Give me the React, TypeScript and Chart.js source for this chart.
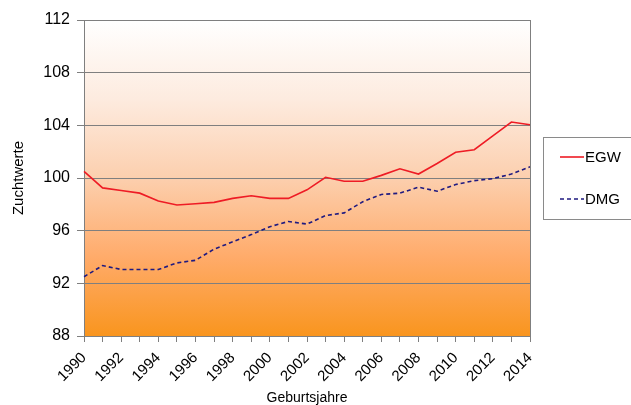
import React, { useEffect, useRef } from "react";
import { Chart, registerables } from "chart.js";

Chart.register(...registerables);

const years: string[] = [
  "1990", "1991", "1992", "1993", "1994", "1995", "1996", "1997", "1998", "1999",
  "2000", "2001", "2002", "2003", "2004", "2005", "2006", "2007", "2008", "2009",
  "2010", "2011", "2012", "2013", "2014",
];

const egw: number[] = [
  100.5, 99.25, 99.05, 98.85, 98.25, 97.95, 98.05, 98.15, 98.45, 98.65,
  98.45, 98.45, 99.1, 100.05, 99.75, 99.75, 100.2, 100.7, 100.3, 101.1,
  101.95, 102.15, 103.2, 104.25, 104.05,
];

const dmg: number[] = [
  92.5, 93.35, 93.05, 93.05, 93.05, 93.55, 93.75, 94.6, 95.15, 95.7,
  96.3, 96.7, 96.5, 97.15, 97.35, 98.2, 98.75, 98.85, 99.3, 99.0,
  99.5, 99.8, 99.95, 100.3, 100.85,
];

const yTicks: number[] = [88, 92, 96, 100, 104, 108, 112];

const FONT = "'Liberation Sans', Arial, sans-serif";
const GRID = "#7f7f7f";

// Gradient fill behind the plot plus the right frame edge
const plotFrame = {
  id: "plotFrame",
  beforeDraw(chart: Chart) {
    const { ctx, chartArea } = chart;
    const { left, right, top, bottom } = chartArea;
    const g = ctx.createLinearGradient(0, top, 0, bottom);
    g.addColorStop(0, "#ffffff");
    g.addColorStop(0.25, "#fdebdf");
    g.addColorStop(0.5, "#fccfae");
    g.addColorStop(0.75, "#ffab6a");
    g.addColorStop(1, "#f9951e");
    ctx.save();
    ctx.fillStyle = g;
    ctx.fillRect(left, top, right - left, bottom - top);
    ctx.restore();
  },
  afterDatasetsDraw(chart: Chart) {
    const { ctx, chartArea } = chart;
    ctx.save();
    ctx.strokeStyle = GRID;
    ctx.lineWidth = 1;
    ctx.beginPath();
    ctx.moveTo(Math.round(chartArea.right) + 0.5, chartArea.top);
    ctx.lineTo(Math.round(chartArea.right) + 0.5, chartArea.bottom);
    ctx.stroke();
    ctx.restore();
  },
};

// Boxed legend on the right side
const boxLegend = {
  id: "boxLegend",
  afterDraw(chart: Chart) {
    const { ctx } = chart;
    const x0 = 543.5;
    const y0 = 137.5;
    const h = 82;
    ctx.save();
    ctx.fillStyle = "#ffffff";
    ctx.fillRect(x0, y0, 120, h);
    ctx.strokeStyle = "#8a8a8a";
    ctx.lineWidth = 1;
    ctx.strokeRect(x0, y0, 120, h);
    ctx.font = `15px ${FONT}`;
    ctx.textBaseline = "middle";
    ctx.fillStyle = "#000000";
    chart.data.datasets.forEach((ds: any, i: number) => {
      const y = 157 + i * 42;
      ctx.strokeStyle = ds.borderColor;
      ctx.lineWidth = ds.borderWidth;
      ctx.setLineDash(ds.borderDash || []);
      ctx.beginPath();
      ctx.moveTo(560, y);
      ctx.lineTo(584, y);
      ctx.stroke();
      ctx.setLineDash([]);
      ctx.fillText(ds.label, 585, y + 1);
    });
    ctx.restore();
  },
};

export default function App() {
  const canvasRef = useRef<HTMLCanvasElement | null>(null);

  useEffect(() => {
    if (!canvasRef.current) return;
    const chart = new Chart(canvasRef.current, {
      type: "line",
      data: {
        labels: years,
        datasets: [
          {
            label: "EGW",
            data: egw,
            borderColor: "#ee1c25",
            borderWidth: 1.6,
            pointRadius: 0,
            tension: 0,
          },
          {
            label: "DMG",
            data: dmg,
            borderColor: "#1f1a80",
            borderWidth: 1.6,
            borderDash: [4, 3],
            pointRadius: 0,
            tension: 0,
          },
        ],
      },
      options: {
        responsive: false,
        animation: false,
        layout: { padding: { left: 0, right: 101, top: 20, bottom: 0 } },
        plugins: {
          legend: { display: false },
          tooltip: { enabled: false },
        },
        scales: {
          x: {
            offset: false,
            grid: {
              drawOnChartArea: false,
              color: GRID,
              tickLength: 6,
              tickColor: GRID,
            },
            border: { color: GRID },
            ticks: {
              autoSkip: false,
              maxRotation: 45,
              minRotation: 45,
              color: "#000000",
              padding: 7,
              font: { family: FONT, size: 15 },
              callback: (_v: any, i: number) => (i % 2 === 0 ? years[i] : ""),
            },
            title: {
              display: true,
              text: "Geburtsjahre",
              color: "#000000",
              font: { family: FONT, size: 14 },
              padding: { top: 0, bottom: -2 },
            },
            afterFit: (scale: any) => {
              scale.height = 69;
            },
          },
          y: {
            min: 88,
            max: 112,
            afterBuildTicks: (scale: any) => {
              scale.ticks = yTicks.map((v) => ({ value: v }));
            },
            grid: {
              color: GRID,
              tickLength: 7,
              tickColor: GRID,
            },
            border: { color: GRID },
            ticks: {
              color: "#000000",
              padding: 7,
              font: { family: FONT, size: 16 },
            },
            title: {
              display: true,
              text: "Zuchtwerte",
              color: "#000000",
              font: { family: FONT, size: 15 },
              padding: { top: 10, bottom: 10 },
            },
            afterFit: (scale: any) => {
              scale.width = 84;
            },
          },
        },
      },
      plugins: [plotFrame, boxLegend],
    });
    return () => chart.destroy();
  }, []);

  return (
    <div style={{ position: "fixed", left: 0, top: 0, width: 631, height: 405, background: "#ffffff" }}>
      <canvas ref={canvasRef} width={631} height={405} style={{ width: 631, height: 405, display: "block" }} />
    </div>
  );
}
